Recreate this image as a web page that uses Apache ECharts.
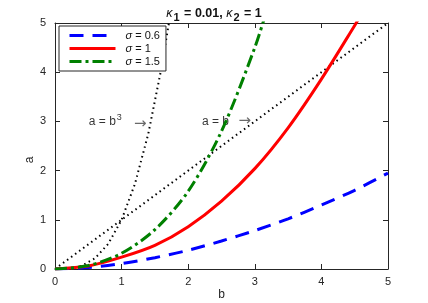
<!DOCTYPE html>
<html><head><meta charset="utf-8">
<script src="https://cdn.jsdelivr.net/npm/echarts@6/dist/echarts.min.js"></script>
<style>html,body{margin:0;padding:0;background:#fff}#c{width:428px;height:303px}</style>
</head><body><div id="c"></div>
<script>
// data: [b, a]
var sigma06 = [[0,0],[0.5,0.03],[1,0.11],[1.5,0.23],[2,0.38],[2.5,0.57],[3,0.78],[3.5,1.02],[4,1.3],[4.5,1.6],[5,1.95]];
var sigma1  = [[0,0],[0.5,0.06],[1,0.24],[1.5,0.48],[2,0.86],[2.5,1.38],[3,2.04],[3.5,2.87],[4,3.86],[4.5,4.95],[4.6,5.18]];
var sigma15 = [[0,0],[0.5,0.07],[1,0.32],[1.5,0.8],[2,1.58],[2.5,2.8],[3,4.5],[3.2,5.35]];
var lineAeqB  = [[0,0],[1,1],[2,2],[3,3],[4,4],[5,5]];
var lineAeqB3 = [[0,0],[0.2,0.008],[0.4,0.064],[0.6,0.216],[0.8,0.512],[1,1],[1.2,1.728],[1.4,2.744],[1.6,4.096],[1.71,5]];
var seriesNames = ['σ = 0.6','σ = 1','σ = 1.5'];
var xTicks = [0,1,2,3,4,5];
var yTicks = [0,1,2,3,4,5];
var annotB3 = [0.5, 3];
var annotB = [2.2, 3];
var arrowB3 = [1.28, 2.95];
var arrowB = [2.85, 3.0];

var FONT = 'Liberation Sans, Arial, Helvetica, sans-serif';
var AX = '#262626';
var chart = echarts.init(document.getElementById('c'), null, {renderer:'canvas'});
function axisCommon(show){
  return {
    min:xTicks[0], max:xTicks[xTicks.length-1], interval:1,
    axisLine:{show:true,onZero:false,lineStyle:{color:AX,width:1}},
    axisTick:{show:true,inside:true,length:5,lineStyle:{color:AX,width:1}},
    axisLabel:{show:show,color:AX,fontSize:11,fontFamily:FONT},
    splitLine:{show:false}
  };
}
var xa = axisCommon(true); xa.type='value'; xa.position='bottom'; xa.name='b'; xa.nameLocation='middle'; xa.nameGap=20; xa.nameMoveOverlap=false;
xa.nameTextStyle={color:AX,fontSize:12,fontFamily:FONT}; xa.axisLabel.margin=7;
var xa2 = axisCommon(false); xa2.type='value'; xa2.position='top';
var ya = axisCommon(true); ya.type='value'; ya.position='left'; ya.min=yTicks[0]; ya.max=yTicks[yTicks.length-1]; ya.name='a'; ya.nameLocation='middle'; ya.nameGap=19; ya.nameMoveOverlap=false;
ya.nameTextStyle={color:AX,fontSize:12,fontFamily:FONT,padding:[0,28,0,0]}; ya.axisLabel.margin=9;
var ya2 = axisCommon(false); ya2.type='value'; ya2.position='right'; ya2.min=yTicks[0]; ya2.max=yTicks[yTicks.length-1];

var annRich = {n:{fontSize:12,color:'#000',fontFamily:FONT},
  sup:{fontSize:9,color:'#000',fontFamily:FONT,verticalAlign:'top',padding:[0,0,7,1]}};

chart.setOption({
  animation:false,
  backgroundColor:'#fff',
  title:{
    text:'{k|κ}{s|1}{t| = 0.01, }{k|κ}{s|2}{t| = 1}',
    left:'center', top:2,
    textStyle:{rich:{
      k:{fontSize:12.5,fontStyle:'italic',fontWeight:'normal',color:'#111',fontFamily:FONT,lineHeight:16,verticalAlign:'top'},
      s:{fontSize:11,fontWeight:'bold',color:'#111',fontFamily:FONT,lineHeight:16,padding:[5,1,0,1],verticalAlign:'top'},
      t:{fontSize:12.5,fontWeight:'bold',color:'#111',fontFamily:FONT,lineHeight:16,verticalAlign:'top'}
    }}
  },
  grid:{left:55,right:40,top:23,bottom:34,containLabel:false,outerBoundsMode:'none'},
  legend:{
    orient:'vertical', left:59, top:26, padding:[4,6,4,9], itemGap:2,
    itemWidth:46, itemHeight:9,
    borderColor:AX, borderWidth:1, backgroundColor:'#fff',
    data:seriesNames,
    itemStyle:{opacity:0},
    lineStyle:{width:3},
    textStyle:{fontSize:11,color:'#111',fontFamily:FONT,padding:[0,0,0,5],
      rich:{g:{fontStyle:'italic',fontSize:11,color:'#111',fontFamily:FONT}}},
    formatter:function(n){ return '{g|σ}' + n.slice(1); }
  },
  xAxis:[xa, xa2],
  yAxis:[ya, ya2],
  series:[
    {name:'a=b3', type:'line', data:lineAeqB3, showSymbol:false, symbol:'none', z:1,
     lineStyle:{color:'#000',width:2,type:[1.5,3.5]}},
    {name:'a=b', type:'line', data:lineAeqB, showSymbol:false, symbol:'none', z:1,
     lineStyle:{color:'#000',width:2,type:[1.5,3.5]}},
    {name:'annotations', type:'scatter', symbolSize:1, silent:true, z:2, clip:false,
     itemStyle:{color:'rgba(0,0,0,0)'},
     label:{show:true, position:'right', distance:0, offset:[4,4], color:'#000', fontSize:12, fontFamily:FONT, rich:annRich},
     labelLayout:{hideOverlap:false},
     data:[
       {value:annotB3, label:{formatter:'{n|a = b}{sup|3}'}},
       {value:annotB, label:{formatter:'{n|a = b}'}}
     ]},
    {name:'arrows', type:'scatter', symbolSize:1, silent:true, z:4, clip:false,
     itemStyle:{color:'rgba(0,0,0,0)'},
     label:{show:true, position:'inside', formatter:'→', color:'#444', fontSize:15, fontFamily:'DejaVu Sans, sans-serif'},
     labelLayout:{hideOverlap:false},
     data:[arrowB3, arrowB]},
    {name:seriesNames[0], type:'line', data:sigma06, showSymbol:false, symbol:'none', smooth:0.3, z:3,
     lineStyle:{color:'#0000ff',width:3,type:[14,9]}, itemStyle:{color:'#0000ff'}},
    {name:seriesNames[1], type:'line', data:sigma1, showSymbol:false, symbol:'none', smooth:0.3, z:3,
     lineStyle:{color:'#ff0000',width:3}, itemStyle:{color:'#ff0000'}},
    {name:seriesNames[2], type:'line', data:sigma15, showSymbol:false, symbol:'none', smooth:0.3, z:3,
     lineStyle:{color:'#008000',width:3,type:[12,4,3,4]}, itemStyle:{color:'#008000'}}
  ]
});
</script></body></html>
